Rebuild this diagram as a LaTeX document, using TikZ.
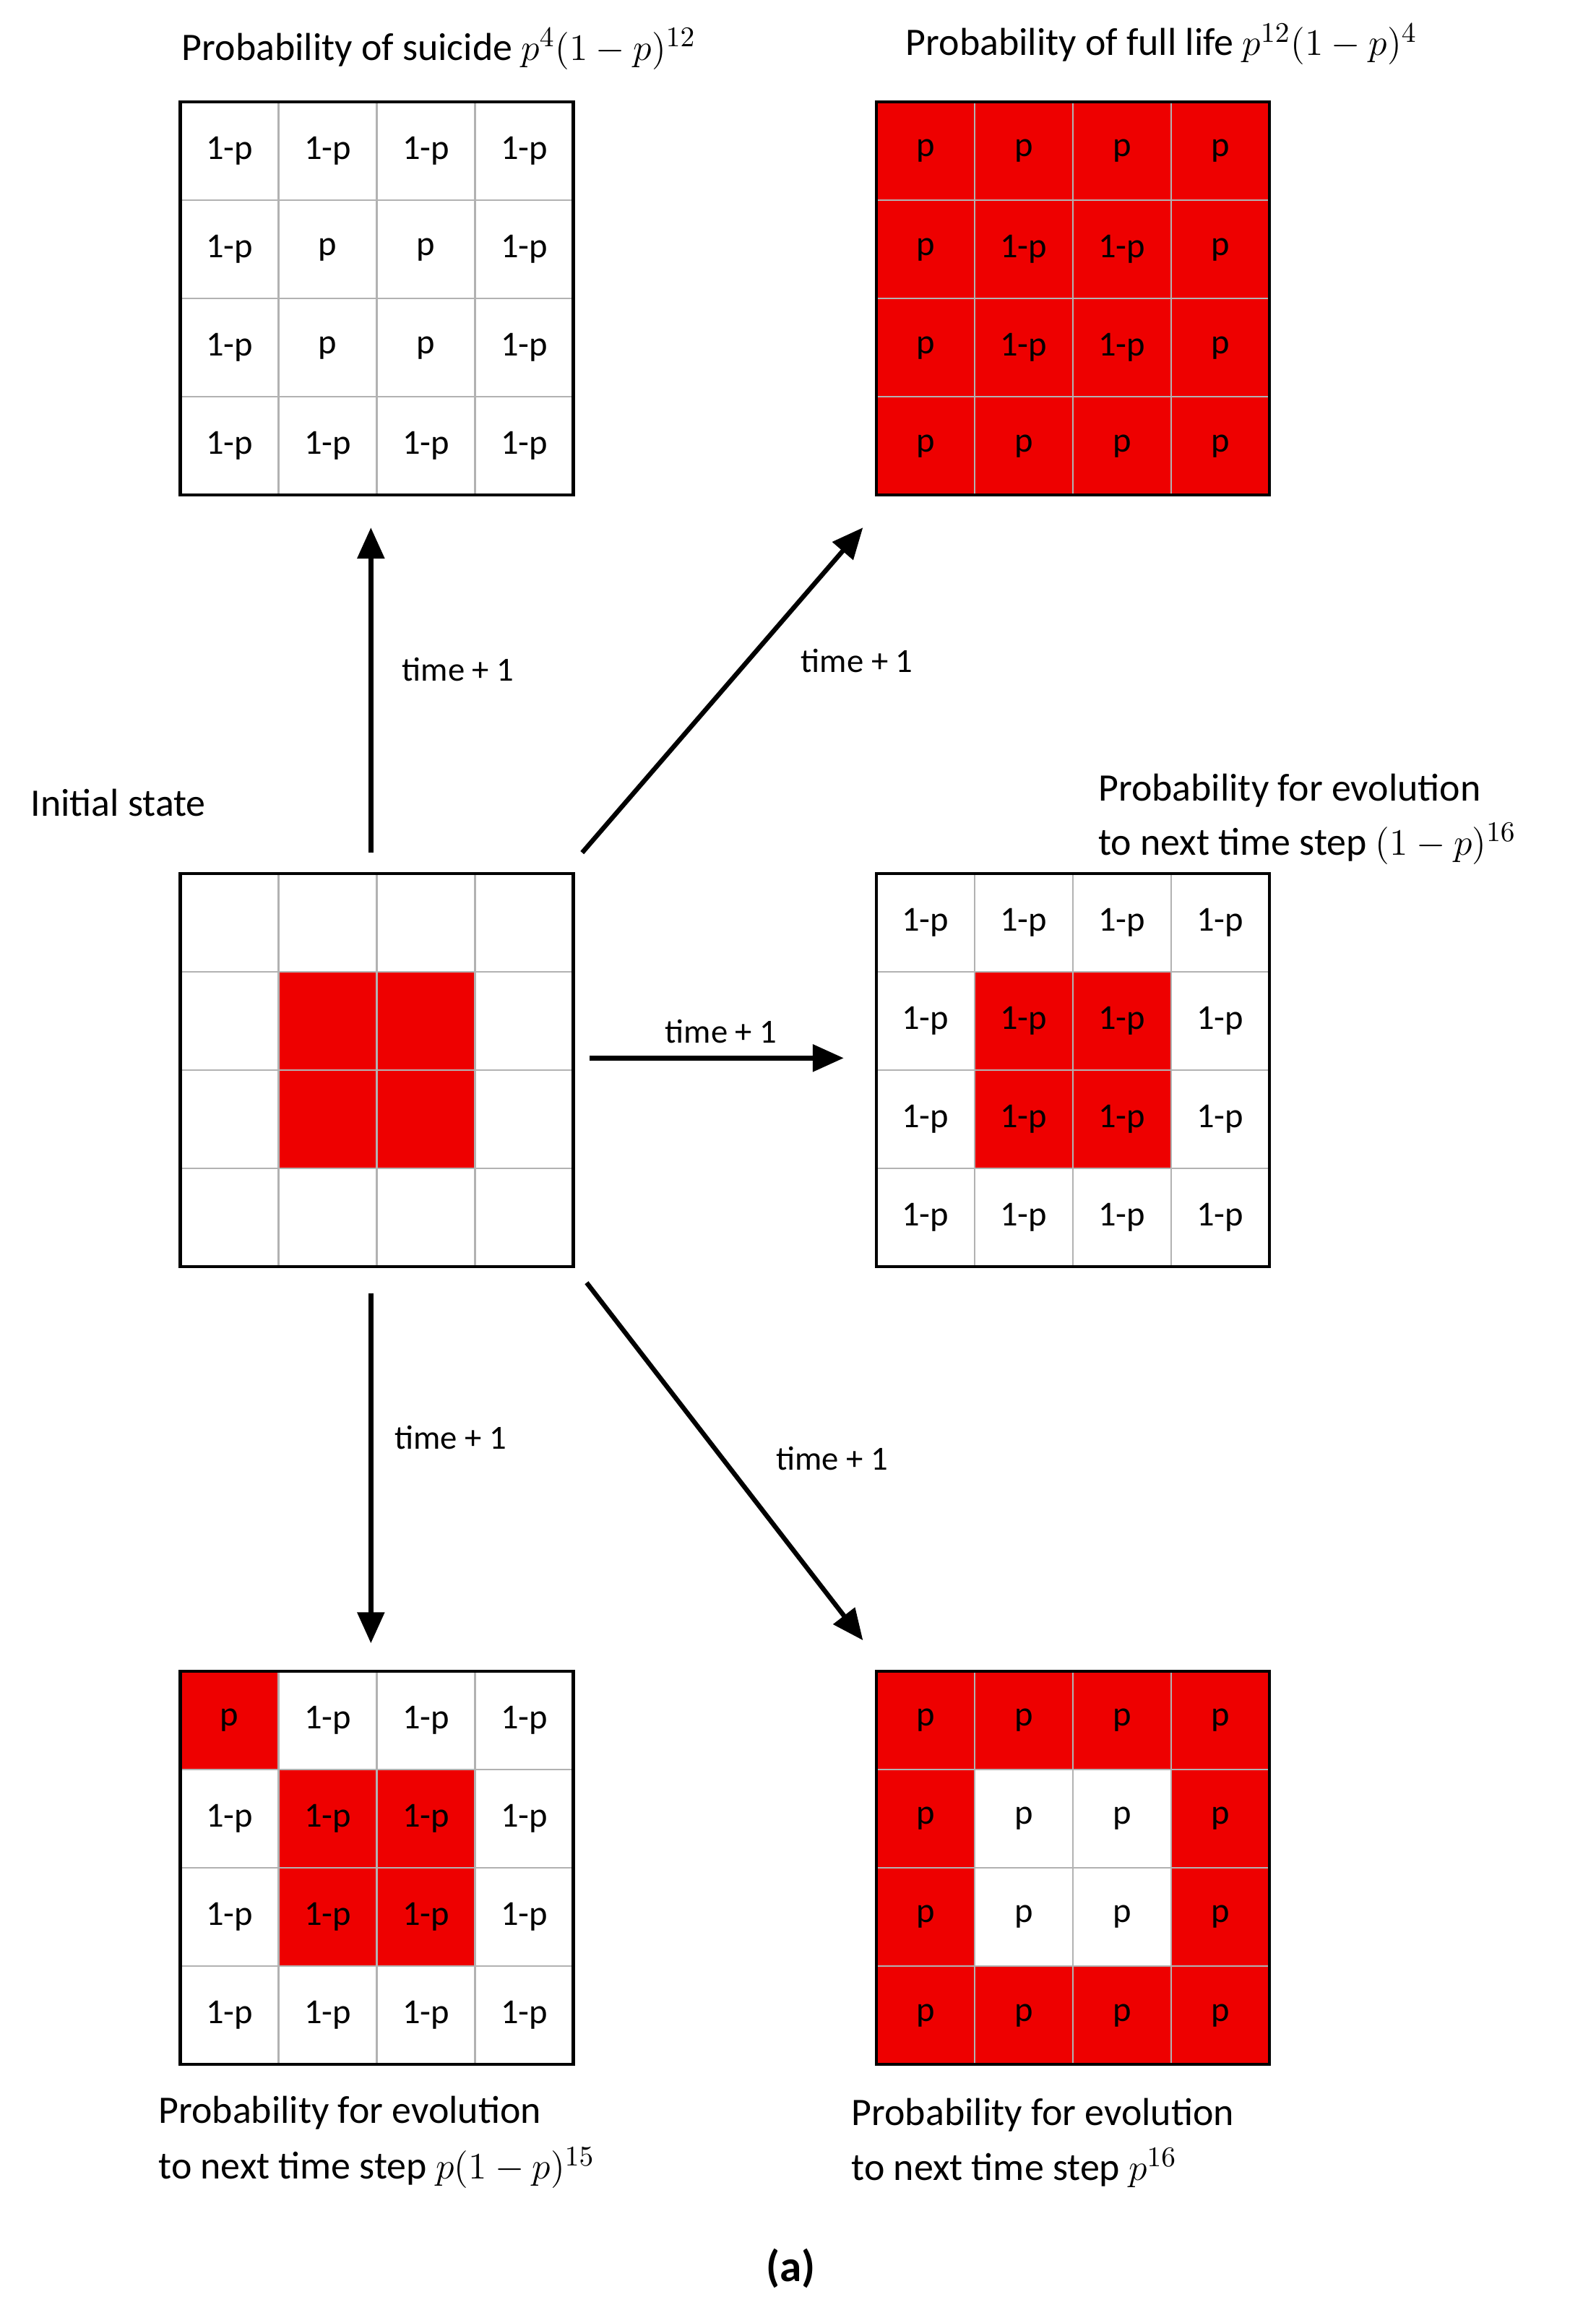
\documentclass[tikz,border=0pt]{standalone}
\usepackage{fontspec}
\setmainfont{Carlito}
\usetikzlibrary{arrows.meta}
\definecolor{cred}{RGB}{238,0,0}
\tikzset{
  cell/.style={draw=gray!60,line width=0.6pt,minimum size=1.33cm,inner sep=0pt,font=\fontsize{13.5}{15}\selectfont},
  arr/.style={line width=1.8pt,-{Triangle[length=0.42cm,width=0.36cm]}},
  lbl/.style={font=\fontsize{13}{15}\selectfont},
  ttl/.style={font=\fontsize{15}{18}\selectfont,inner sep=0pt},
}
\newcommand\mygrid[4]{%
  \foreach [count=\k from 0] \f/\t in {#4} {
    \pgfmathtruncatemacro\r{floor(\k/4)}
    \pgfmathtruncatemacro\c{mod(\k,4)}
    \node[cell,fill=\f] (#1-\r-\c) at ({#2+66.5*\c+33.25},{-(#3+66.5*\r+33.25)}) {\t};
  }
  \draw[line width=1.2pt] (#2,-#3) rectangle ({#2+266},{-(#3+266)});
}
\begin{document}
\begin{tikzpicture}[x=0.02cm,y=0.02cm]
\useasboundingbox (0,0) rectangle (1080,-1572);
\fill[white] (0,0) rectangle (1080,-1572);
% top-left
\mygrid{tl}{122}{69}{white/1-p,white/1-p,white/1-p,white/1-p,white/1-p,white/p,white/p,white/1-p,white/1-p,white/p,white/p,white/1-p,white/1-p,white/1-p,white/1-p,white/1-p}
% top-right
\mygrid{tr}{593}{69}{cred/p,cred/p,cred/p,cred/p,cred/p,cred/1-p,cred/1-p,cred/p,cred/p,cred/1-p,cred/1-p,cred/p,cred/p,cred/p,cred/p,cred/p}
% initial
\mygrid{in}{122}{591}{white/{},white/{},white/{},white/{},white/{},cred/{},cred/{},white/{},white/{},cred/{},cred/{},white/{},white/{},white/{},white/{},white/{}}
% middle-right
\mygrid{mr}{593}{591}{white/1-p,white/1-p,white/1-p,white/1-p,white/1-p,cred/1-p,cred/1-p,white/1-p,white/1-p,cred/1-p,cred/1-p,white/1-p,white/1-p,white/1-p,white/1-p,white/1-p}
% bottom-left
\mygrid{bl}{122}{1131}{cred/p,white/1-p,white/1-p,white/1-p,white/1-p,cred/1-p,cred/1-p,white/1-p,white/1-p,cred/1-p,cred/1-p,white/1-p,white/1-p,white/1-p,white/1-p,white/1-p}
% bottom-right
\mygrid{br}{593}{1131}{cred/p,cred/p,cred/p,cred/p,cred/p,white/p,white/p,cred/p,cred/p,white/p,white/p,cred/p,cred/p,cred/p,cred/p,cred/p}

% titles
\node[ttl] (t1) at (297,-33) {Probability of suicide $p^4(1-p)^{12}$};
\node[ttl] (t2) at (786,-30) {Probability of full life $p^{12}(1-p)^4$};
\node[ttl] (t0) at (80,-543) {Initial state};
\node[ttl,anchor=west] (t3a) at (743,-535) {Probability for evolution};
\node[ttl,anchor=west] (t3b) at (743,-571) {to next time step $(1-p)^{16}$};
\node[ttl,anchor=west] (t4a) at (107,-1430) {Probability for evolution};
\node[ttl,anchor=west] (t4b) at (107,-1467) {to next time step $p(1-p)^{15}$};
\node[ttl,anchor=west] (t5a) at (576,-1431) {Probability for evolution};
\node[ttl,anchor=west] (t5b) at (576,-1467) {to next time step $p^{16}$};
\node[font=\fontsize{17}{20}\selectfont\bfseries] (cap) at (535,-1535) {(a)};

% arrows
\coordinate (a1s) at (251,-577); \coordinate (a1e) at (251,-357);
\coordinate (a2s) at (394,-577); \coordinate (a2e) at (584,-357);
\coordinate (a3s) at (399,-716); \coordinate (a3e) at (571,-716);
\coordinate (a4s) at (251,-875); \coordinate (a4e) at (251,-1112);
\coordinate (a5s) at (397,-868); \coordinate (a5e) at (584,-1110);
\draw[arr] (a1s) -- (a1e);
\draw[arr] (a2s) -- (a2e);
\draw[arr] (a3s) -- (a3e);
\draw[arr] (a4s) -- (a4e);
\draw[arr] (a5s) -- (a5e);
\node[lbl] (l1) at (310,-453) {time + 1};
\node[lbl] (l2) at (580,-447) {time + 1};
\node[lbl] (l3) at (488,-698) {time + 1};
\node[lbl] (l4) at (305,-973) {time + 1};
\node[lbl] (l5) at (563,-987) {time + 1};
\end{tikzpicture}
\end{document}
